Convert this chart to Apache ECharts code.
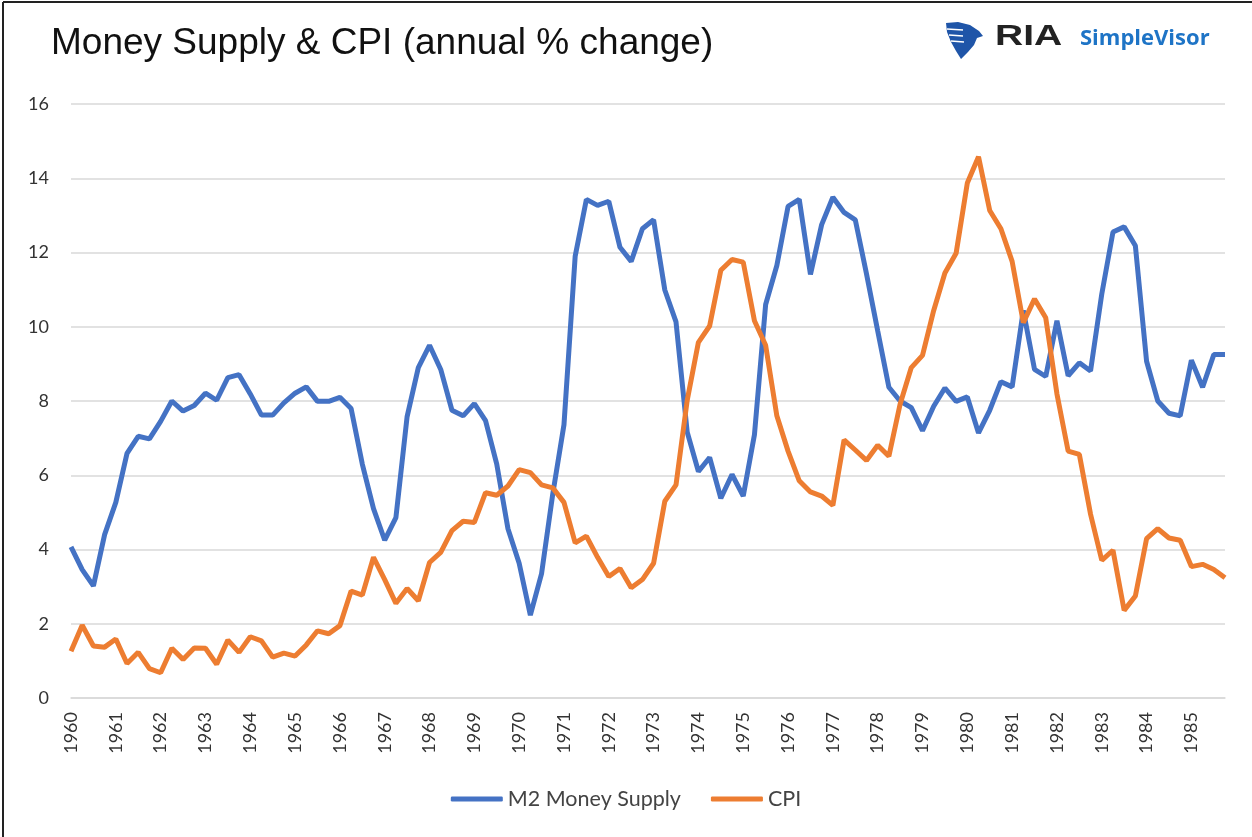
<!DOCTYPE html>
<html>
<head>
<meta charset="utf-8">
<script src="https://cdn.jsdelivr.net/npm/echarts@6/dist/echarts.min.js"></script>
<style>
  html, body { margin: 0; padding: 0; background: #fff; }
  #chart { width: 1252px; height: 837px; }
</style>
</head>
<body>
<div id="chart"></div>
<script>
// quarterly, 1960 Q1 .. 1985 Q4
const years = []
for (let y = 1960; y <= 1985; y++) years.push(String(y))
const quarters = ['Q1', 'Q2', 'Q3', 'Q4']
const categories = []
years.forEach(y => quarters.forEach(q => categories.push(y + ' ' + q)))

const m2 = [
  4.07, 3.46, 3.02, 4.4, 5.27, 6.59, 7.05, 6.98, 7.45, 8.0, 7.73, 7.88, 8.21, 8.02, 8.63, 8.71,
  8.19, 7.62, 7.62, 7.95, 8.21, 8.38, 7.99, 7.99, 8.1, 7.8, 6.3, 5.1, 4.25, 4.86, 7.58, 8.9,
  9.5, 8.85, 7.75, 7.6, 7.93, 7.47, 6.3, 4.56, 3.63, 2.23, 3.35, 5.5, 7.36, 11.9, 13.43, 13.27,
  13.38, 12.14, 11.76, 12.64, 12.88, 10.99, 10.13, 7.16, 6.1, 6.48, 5.38, 6.02, 5.44, 7.09, 10.6, 11.65,
  13.24, 13.43, 11.41, 12.75, 13.49, 13.08, 12.88, 11.43, 9.89, 8.37, 8.0, 7.82, 7.2, 7.86, 8.35, 7.99,
  8.11, 7.14, 7.75, 8.52, 8.38, 10.44, 8.85, 8.66, 10.16, 8.68, 9.03, 8.81, 10.88, 12.55, 12.69, 12.18,
  9.07, 8.0, 7.67, 7.6, 9.1, 8.37, 9.25, 9.25
]

const cpi = [
  1.26, 1.96, 1.4, 1.37, 1.59, 0.93, 1.23, 0.79, 0.68, 1.34, 1.04, 1.35, 1.34, 0.91, 1.56, 1.23,
  1.65, 1.54, 1.1, 1.21, 1.13, 1.43, 1.81, 1.73, 1.95, 2.88, 2.77, 3.79, 3.19, 2.55, 2.95, 2.62,
  3.65, 3.92, 4.51, 4.76, 4.73, 5.53, 5.46, 5.71, 6.15, 6.07, 5.74, 5.66, 5.27, 4.18, 4.36, 3.79,
  3.27, 3.49, 2.97, 3.19, 3.63, 5.3, 5.74, 8.02, 9.58, 10.02, 11.52, 11.81, 11.74, 10.16, 9.5, 7.6,
  6.65, 5.85, 5.55, 5.44, 5.19, 6.95, 6.68, 6.4, 6.81, 6.51, 7.91, 8.9, 9.23, 10.44, 11.45, 11.98,
  13.87, 14.58, 13.13, 12.64, 11.76, 10.11, 10.75, 10.24, 8.19, 6.65, 6.56, 4.95, 3.71, 3.98, 2.36, 2.75,
  4.29, 4.56, 4.31, 4.25, 3.54, 3.6, 3.46, 3.24
]

const titleText = 'Money Supply & CPI (annual % change)'
const seriesNames = ['M2 Money Supply', 'CPI']

const chart = echarts.init(document.getElementById('chart'))
chart.setOption({
  animation: false,
  backgroundColor: '#fff',
  title: {
    text: titleText,
    left: 46,
    top: 20,
    textStyle: {
      fontFamily: 'Liberation Sans, Arial, sans-serif',
      fontWeight: 'normal',
      fontSize: 37,
      color: '#111'
    }
  },
  graphic: [
    // frame (top + left edge of the screenshot)
    { type: 'line', shape: { x1: 3, y1: 2, x2: 1252, y2: 2 }, style: { stroke: '#222', lineWidth: 2 } },
    { type: 'line', shape: { x1: 3, y1: 2, x2: 3, y2: 837 }, style: { stroke: '#222', lineWidth: 2 } },
    // logo: eagle badge
    {
      type: 'polygon',
      shape: {
        points: [[946, 23], [958, 22], [970, 25], [979, 31], [983, 36], [977, 38], [974, 45], [968, 52], [961, 59], [956, 51], [951, 42], [947, 32]]
      },
      style: { fill: '#1f55a8' }
    },
    { type: 'line', shape: { x1: 947, y1: 29, x2: 963, y2: 30 }, style: { stroke: '#fff', lineWidth: 1.5 } },
    { type: 'line', shape: { x1: 949, y1: 35, x2: 963, y2: 36 }, style: { stroke: '#fff', lineWidth: 1.5 } },
    { type: 'line', shape: { x1: 951, y1: 41, x2: 964, y2: 42 }, style: { stroke: '#fff', lineWidth: 1.5 } },
    {
      type: 'text',
      x: 995,
      y: 22,
      scaleX: 1.3,
      style: { text: 'RIA', fontFamily: 'Liberation Sans, Arial, sans-serif', fontWeight: 'bold', fontSize: 30, fill: '#222' }
    },
    {
      type: 'text',
      x: 1080,
      y: 28,
      style: { text: 'SimpleVisor', fontFamily: 'Open Sans, sans-serif', fontWeight: 'bold', fontSize: 22, fill: '#1e74c6' }
    }
  ],
  legend: {
    data: seriesNames,
    bottom: 22,
    left: 'center',
    icon: 'roundRect',
    itemWidth: 52,
    itemHeight: 5,
    itemGap: 30,
    textStyle: {
      fontFamily: 'Lato, sans-serif',
      fontSize: 21.5,
      color: '#444'
    }
  },
  grid: {
    left: 71,
    right: 27,
    top: 104,
    bottom: 139,
    containLabel: false
  },
  xAxis: {
    type: 'category',
    data: categories,
    boundaryGap: false,
    axisLine: { lineStyle: { color: '#d9d9d9', width: 1.5 } },
    axisTick: { show: false },
    axisLabel: {
      interval: 3,
      rotate: 90,
      margin: 14,
      fontFamily: 'Lato, sans-serif',
      fontSize: 18,
      color: '#333',
      formatter: v => v.slice(0, 4)
    }
  },
  yAxis: {
    type: 'value',
    min: 0,
    max: 16,
    interval: 2,
    axisLine: { show: false },
    axisTick: { show: false },
    splitLine: { lineStyle: { color: '#d9d9d9', width: 1.5 } },
    axisLabel: {
      margin: 22,
      fontFamily: 'Lato, sans-serif',
      fontSize: 18,
      color: '#333'
    }
  },
  series: [
    {
      name: seriesNames[0],
      type: 'line',
      data: m2,
      showSymbol: false,
      symbol: 'none',
      lineStyle: { color: '#4472c4', width: 5 },
      itemStyle: { color: '#4472c4' }
    },
    {
      name: seriesNames[1],
      type: 'line',
      data: cpi,
      showSymbol: false,
      symbol: 'none',
      lineStyle: { color: '#ed7d31', width: 5 },
      itemStyle: { color: '#ed7d31' }
    }
  ]
})
</script>
</body>
</html>
